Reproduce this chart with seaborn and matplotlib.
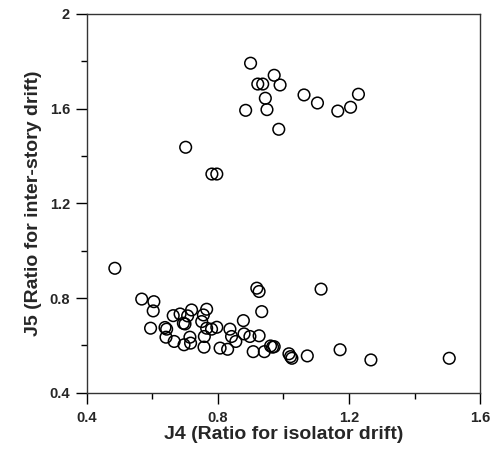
import matplotlib
matplotlib.use("Agg")
import matplotlib.pyplot as plt
import seaborn as sns
import pandas as pd
from matplotlib.ticker import MultipleLocator

# J4 (isolator drift ratio) and J5 (inter-story drift ratio)
j4 = [0.900, 0.972, 0.922, 0.937, 0.990, 0.945, 0.885, 0.950, 0.986, 1.063,
      1.104, 1.166, 1.205, 1.229, 0.702, 0.782, 0.797,
      0.486, 0.568, 0.605, 0.603, 0.595, 0.639, 0.644, 0.642, 0.667, 0.664,
      0.685, 0.700, 0.695, 0.708, 0.720, 0.715, 0.697, 0.717, 0.751, 0.756,
      0.766, 0.759, 0.758, 0.766, 0.781, 0.797, 0.807, 0.837, 0.842, 0.830,
      0.855, 0.878, 0.880, 0.898, 0.908, 0.919, 0.926, 0.934, 0.926, 0.942,
      0.961, 0.967, 0.972, 1.017, 1.022, 1.026, 1.073, 1.115, 1.173, 1.267,
      1.506]
j5 = [1.792, 1.741, 1.704, 1.704, 1.700, 1.644, 1.593, 1.596, 1.513, 1.658,
      1.624, 1.590, 1.606, 1.661, 1.437, 1.324, 1.324,
      0.926, 0.796, 0.785, 0.746, 0.673, 0.676, 0.669, 0.635, 0.617, 0.726,
      0.733, 0.691, 0.694, 0.725, 0.750, 0.635, 0.603, 0.610, 0.701, 0.729,
      0.753, 0.638, 0.593, 0.673, 0.669, 0.677, 0.589, 0.669, 0.638, 0.584,
      0.617, 0.705, 0.649, 0.638, 0.574, 0.842, 0.828, 0.743, 0.641, 0.574,
      0.598, 0.593, 0.595, 0.565, 0.553, 0.546, 0.556, 0.838, 0.582, 0.539,
      0.546]

x_ticks = [0.4, 0.8, 1.2, 1.6]
y_ticks = [0.4, 0.8, 1.2, 1.6, 2.0]
x_tick_labels = ["0.4", "0.8", "1.2", "1.6"]
y_tick_labels = ["0.4", "0.8", "1.2", "1.6", "2"]

df = pd.DataFrame({"J4": j4, "J5": j5})

sns.set_style("white")
plt.rcParams["font.family"] = ["Liberation Sans", "DejaVu Sans"]

fig = plt.figure(figsize=(4.98, 4.5), dpi=100)
ax = fig.add_axes([0.174, 0.127, 0.790, 0.842])

sns.scatterplot(data=df, x="J4", y="J5", ax=ax, marker="o", s=70,
                facecolor="none", edgecolor="black", linewidth=1.1,
                legend=False)

ax.set_xlim(0.4, 1.6)
ax.set_ylim(0.4, 2.0)
ax.set_xticks(x_ticks)
ax.set_xticklabels(x_tick_labels)
ax.set_yticks(y_ticks)
ax.set_yticklabels(y_tick_labels)
ax.xaxis.set_minor_locator(MultipleLocator(0.2))
ax.yaxis.set_minor_locator(MultipleLocator(0.2))
ax.tick_params(which="major", direction="out", length=8, width=1,
               color="black", labelsize=10.5, bottom=True, left=True, pad=4)
ax.tick_params(axis="x", which="major", pad=5)
ax.tick_params(which="minor", direction="out", length=4.5, width=1,
               color="black", bottom=True, left=True)
for lab in ax.get_xticklabels() + ax.get_yticklabels():
    lab.set_fontweight("bold")

for sp in ax.spines.values():
    sp.set_color("#333333")
    sp.set_linewidth(1)

ax.set_xlabel("J4 (Ratio for isolator drift)", fontsize=14,
              fontweight="bold", labelpad=1)
ax.set_ylabel("J5 (Ratio for inter-story drift)", fontsize=14,
              fontweight="bold", labelpad=5)

fig.savefig("out.png", dpi=100)
